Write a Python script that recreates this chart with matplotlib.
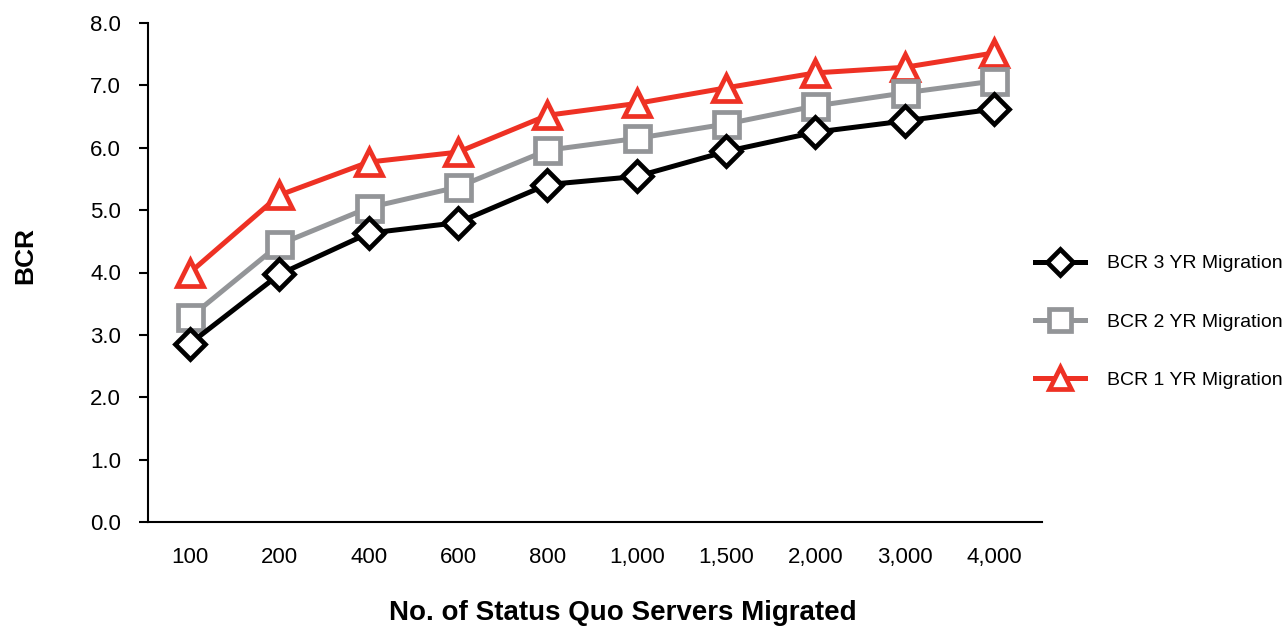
import matplotlib.pyplot as plt

servers = ["100", "200", "400", "600", "800", "1,000", "1,500", "2,000", "3,000", "4,000"]
bcr_3yr = [2.86, 3.97, 4.63, 4.80, 5.41, 5.54, 5.94, 6.25, 6.43, 6.62]
bcr_2yr = [3.28, 4.45, 5.04, 5.37, 5.96, 6.15, 6.38, 6.67, 6.88, 7.07]
bcr_1yr = [4.00, 5.24, 5.77, 5.93, 6.52, 6.71, 6.96, 7.20, 7.29, 7.52]

plt.rcParams['font.family'] = ['Liberation Sans', 'DejaVu Sans']

fig = plt.figure(figsize=(12.87, 6.33), dpi=100)
ax = fig.add_axes([148 / 1287, 111 / 633, 894 / 1287, 499 / 633])

x = list(range(len(servers)))
ax.plot(x, bcr_3yr, color='black', lw=3.6, marker='D', markersize=15,
        markerfacecolor='white', markeredgewidth=3.4, label="BCR 3 YR Migration", zorder=3)
ax.plot(x, bcr_2yr, color='#939598', lw=3.6, marker='s', markersize=18,
        markerfacecolor='white', markeredgewidth=3.4, label="BCR 2 YR Migration", zorder=2)
ax.plot(x, bcr_1yr, color='#ee3124', lw=3.6, marker='^', markersize=19,
        markerfacecolor='white', markeredgewidth=3.4, label="BCR 1 YR Migration", zorder=1)

ax.set_xlim(-0.47, 9.537)
ax.set_ylim(0, 8)
ax.set_yticks(range(9))
ax.set_yticklabels(["%.1f" % i for i in range(9)], fontsize=16)
ax.set_xticks(x)
ax.set_xticklabels(servers, fontsize=16)
ax.tick_params(axis='x', length=0, pad=18)
ax.tick_params(axis='y', length=6.5, width=1.5, direction='out', pad=13)
for s in ['top', 'right']:
    ax.spines[s].set_visible(False)
ax.spines['left'].set_linewidth(1.5)
ax.spines['bottom'].set_linewidth(1.5)

ax.set_xlabel("No. of Status Quo Servers Migrated", fontsize=20, fontweight='bold')
ax.xaxis.set_label_coords(0.531, (522 - 600) / 499)
ax.set_ylabel("BCR", fontsize=19, fontweight='bold')
ax.yaxis.set_label_coords((37 - 148) / 894, (522 - 255) / 499)

fig.legend(*ax.get_legend_handles_labels(), loc='center left',
           bbox_to_anchor=(1035 / 1287, 1 - 322 / 633), frameon=False, fontsize=14,
           handlelength=2.57, handletextpad=1.13, labelspacing=2.1,
           borderpad=0, borderaxespad=0, markerscale=0.85)

fig.savefig("out.png", dpi=100)
